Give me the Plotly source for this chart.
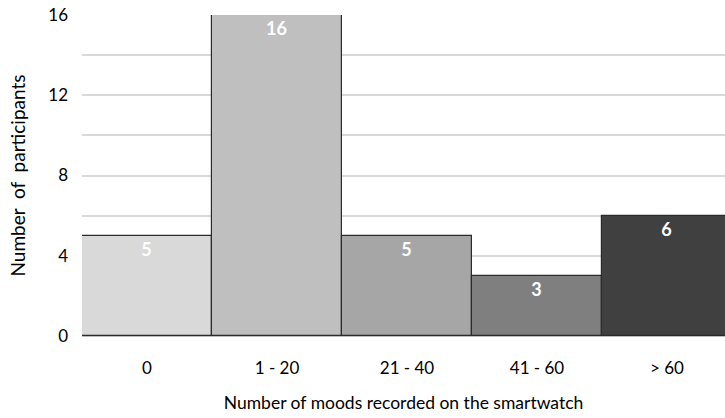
import plotly.graph_objects as go

categories = ["0", "1 - 20", "21 - 40", "41 - 60", "> 60"]
participants = [5, 16, 5, 3, 6]
bar_colors = ["#d9d9d9", "#bfbfbf", "#a6a6a6", "#7f7f7f", "#404040"]
y_ticks = [0, 4, 8, 12, 16]

FONT = "Lato"

fig = go.Figure()
fig.add_trace(go.Bar(
    x=list(range(len(categories))),
    y=participants,
    marker=dict(color=bar_colors, line=dict(color="#2b2b2b", width=1.2)),
    text=[str(v) for v in participants],
    textposition="inside",
    insidetextanchor="end",
    textangle=0,
    textfont=dict(family=FONT, size=18, color="white", weight="bold"),
    cliponaxis=False,
    width=1.0,
))

fig.update_layout(
    width=725, height=418,
    margin=dict(l=82, r=0, t=15, b=82),
    paper_bgcolor="white", plot_bgcolor="white",
    bargap=0,
    showlegend=False,
    font=dict(family=FONT, size=17, color="#000000"),
)
fig.update_xaxes(
    range=[-0.5, 4.5 - 7 / 130],
    tickmode="array",
    tickvals=list(range(len(categories))),
    ticktext=categories,
    showgrid=False,
    showline=False,
    zeroline=False,
    ticks="",
    ticklabelstandoff=20,
    tickfont=dict(family=FONT, size=17, color="#000000"),
    title=dict(text="Number of moods recorded on the smartwatch",
               font=dict(family=FONT, size=17.5, color="#000000"), standoff=19),
)
fig.update_yaxes(
    range=[0, 16],
    tickmode="array",
    tickvals=y_ticks,
    ticktext=[str(t) for t in y_ticks],
    showgrid=True,
    gridcolor="#d9d9d9",
    gridwidth=1.5,
    minor=dict(dtick=2, tick0=0, showgrid=True, gridcolor="#d9d9d9", gridwidth=1.5),
    zeroline=True,
    zerolinecolor="#bfbfbf",
    zerolinewidth=2,
    ticks="",
    ticklabelstandoff=13,
    tickfont=dict(family=FONT, size=17, color="#000000"),
    title=dict(text="Number  of  participants",
               font=dict(family=FONT, size=19, color="#000000"), standoff=17),
)

fig.write_html("out.html")
